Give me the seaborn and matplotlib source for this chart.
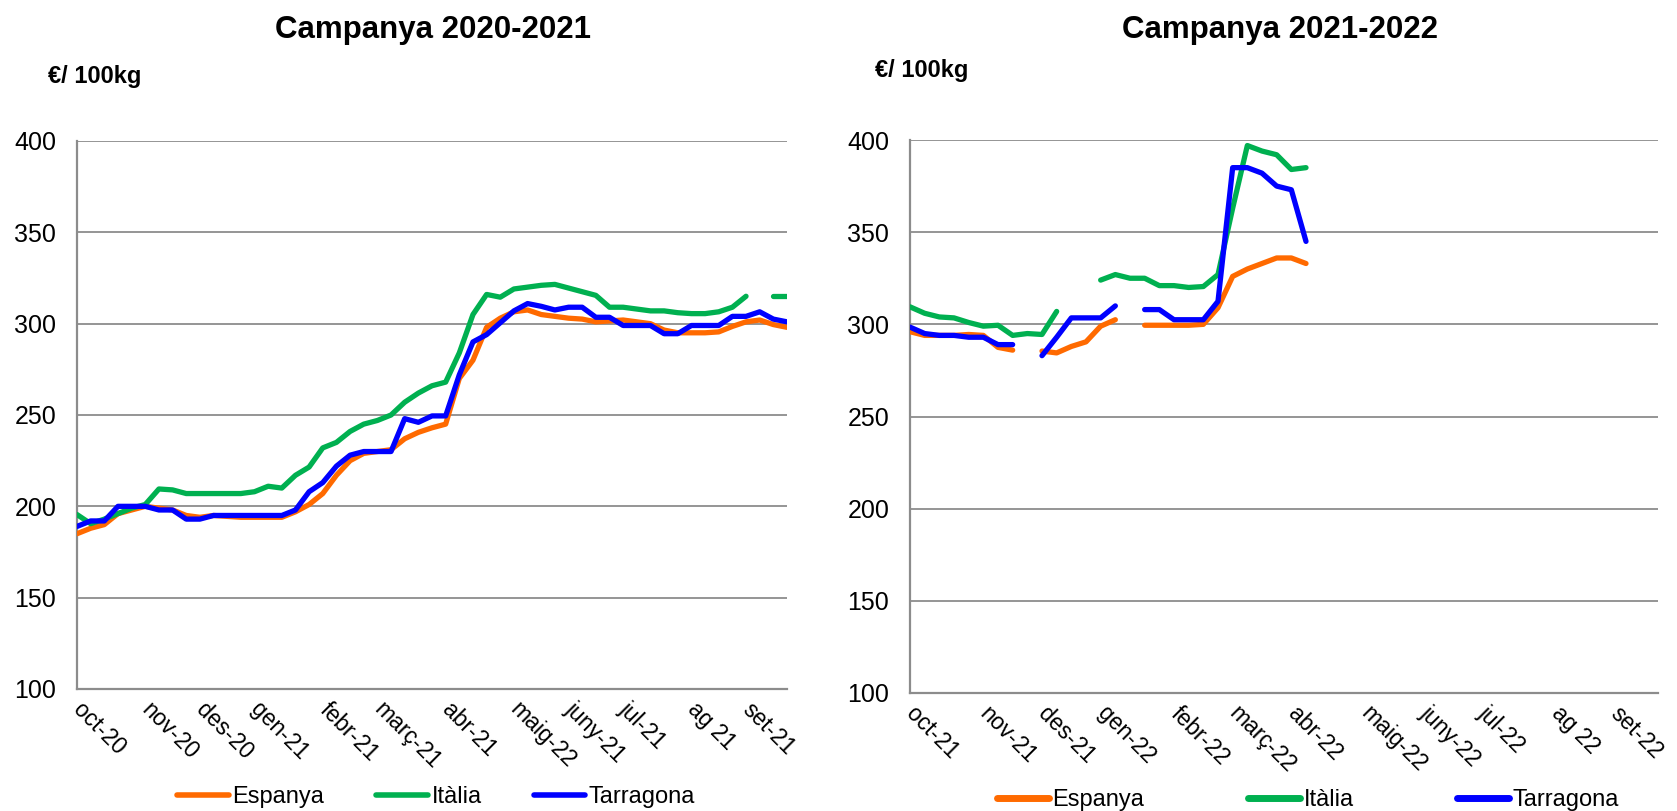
import matplotlib
matplotlib.use("Agg")
import matplotlib.pyplot as plt
from matplotlib.lines import Line2D
import numpy as np
import pandas as pd
import seaborn as sns

sns.set_style("white")
plt.rcParams['font.family'] = ['Liberation Sans', 'DejaVu Sans']
plt.rcParams['text.color'] = 'black'
plt.rcParams['xtick.labelcolor'] = 'black'
plt.rcParams['ytick.labelcolor'] = 'black'

nan = np.nan

# --- Campanya 2020-2021 (weekly, 53 points) ---
esp_2021 = [185, 188, 190, 196, 198, 200, 199, 198, 195, 194,
            195, 194.5, 194, 194, 194, 194, 197, 201, 207, 217,
            225, 229, 230, 231, 237, 240.5, 243, 245, 270, 280,
            298, 303, 306.5, 307.5, 305, 304, 303, 302.5, 301, 301.5,
            302, 301, 300, 296.5, 295, 295, 295, 295.5, 298.5, 301,
            302, 299.5, 298]
ita_2021 = [195.5, 190.5, 193, 196, 199, 201, 209.5, 209, 207, 207,
            207, 207, 207, 208, 211, 210, 217, 221.5, 232, 235,
            241, 245, 247, 250, 257, 262, 266, 268, 284, 305,
            316, 314.5, 319, 320, 321, 321.5, 319.5, 317.5, 315.5, 309,
            309, 308, 307, 307, 306, 305.5, 305.5, 306.5, 309, 315,
            nan, 315, 315]
tar_2021 = [189, 192, 192, 200, 200, 200, 198, 198, 193, 193,
            195, 195, 195, 195, 195, 195, 198, 208, 213, 222,
            228, 230, 230, 230, 248, 246, 249.5, 249.5, 272, 290,
            294, 300.5, 307, 311, 309.5, 307.5, 309, 309, 303.5, 303.5,
            299, 299, 299, 294.5, 294.5, 299, 299, 299, 304, 304,
            306.5, 302.5, 301]
labels_2021 = ['oct-20', 'nov-20', 'des-20', 'gen-21', 'febr-21', 'març-21',
               'abr-21', 'maig-22', 'juny-21', 'jul-21', 'ag 21', 'set-21']
label_weeks_2021 = [0, 5, 9, 13, 18, 22, 27, 32, 36, 40, 45, 49]

# --- Campanya 2021-2022 (weekly, 52 points, data up to abr-22) ---
esp_2122 = [296, 294, 294, 294, 294.5, 294, 287.5, 286, nan, 285.5,
            284.5, 288, 290.5, 299, 302.5, nan, 299.5, 299.5, 299.5, 299.5,
            300, 309, 326, 330, 333, 336, 336, 333]
ita_2122 = [309.5, 306, 304, 303.5, 301, 299, 299.5, 294, 295, 294.5,
            307, nan, nan, 324, 327, 325, 325, 321, 321, 320,
            320.5, 327, 363, 397, 394, 392, 384, 385]
tar_2122 = [298.5, 295, 294, 294, 293, 293, 289, 289, nan, 283,
            293, 303.5, 303.5, 303.5, 310, nan, 308, 308, 302.5, 302.5,
            302.5, 312.5, 385, 385, 382, 375, 373, 345]
labels_2122 = ['oct-21', 'nov-21', 'des-21', 'gen-22', 'febr-22', 'març-22',
               'abr-22', 'maig-22', 'juny-22', 'jul-22', 'ag 22', 'set-22']
label_weeks_2122 = [0, 5, 9, 13, 18, 22, 26, 31, 35, 39, 44, 48]

series = ['Espanya', 'Itàlia', 'Tarragona']
colors = {'Espanya': '#FF6A00', 'Itàlia': '#00B050', 'Tarragona': '#0000FF'}
grid_col = '#8c8c8c'


def long_df(values):
    frames = []
    for name, vals in zip(series, values):
        v = np.array(vals, dtype=float)
        seg = np.cumsum(np.isnan(v))
        d = pd.DataFrame({'week': np.arange(len(v)), 'price': v,
                          'serie': name, 'seg': seg})
        frames.append(d.dropna())
    return pd.concat(frames, ignore_index=True)


def draw(ax, df, n_weeks, labels, label_weeks):
    sns.lineplot(data=df, x='week', y='price', hue='serie', units='seg',
                 estimator=None, palette=colors, linewidth=3.8,
                 legend=False, ax=ax, zorder=3)
    ax.set_xlim(0, n_weeks - 1)
    ax.set_ylim(100, 400)
    ax.set_yticks(range(100, 401, 50))
    ax.yaxis.grid(True, color=grid_col, linewidth=1.3)
    ax.set_xlabel('')
    ax.set_ylabel('')
    for s in ['top', 'right']:
        ax.spines[s].set_visible(False)
    for s in ['left', 'bottom']:
        ax.spines[s].set_color(grid_col)
        ax.spines[s].set_linewidth(1.6)
    tick_labels = [''] * n_weeks
    for w, lab in zip(label_weeks, labels):
        tick_labels[w] = lab
    ax.set_xticks(range(n_weeks))
    ax.set_xticklabels(tick_labels)
    ax.tick_params(axis='x', direction='inout', length=9, width=1.3,
                   color=grid_col, pad=8, labelsize=16.5)
    ax.tick_params(axis='y', direction='out', length=5, width=1.3,
                   color=grid_col, pad=10, labelsize=18)
    for t in ax.get_xticklabels():
        t.set_rotation(-45)
        t.set_ha('left')
        t.set_va('center')
        t.set_rotation_mode('anchor')


W, H = 1677, 811
fig = plt.figure(figsize=(W / 100, H / 100), dpi=100)
ax1 = fig.add_axes([77 / W, 1 - 689 / H, (787 - 77) / W, (689 - 141) / H])
ax2 = fig.add_axes([910 / W, 1 - 693 / H, (1658 - 910) / W, (693 - 140) / H])

draw(ax1, long_df([esp_2021, ita_2021, tar_2021]), 53, labels_2021, label_weeks_2021)
draw(ax2, long_df([esp_2122, ita_2122, tar_2122]), 52, labels_2122, label_weeks_2122)

fig.text(433 / W, 1 - 30 / H, 'Campanya 2020-2021', ha='center', va='center',
         fontsize=22.5, fontweight='bold')
fig.text(1280 / W, 1 - 30 / H, 'Campanya 2021-2022', ha='center', va='center',
         fontsize=22.5, fontweight='bold')
fig.text(48 / W, 1 - 77 / H, '€/ 100kg', ha='left', va='center',
         fontsize=17, fontweight='bold')
fig.text(875 / W, 1 - 70 / H, '€/ 100kg', ha='left', va='center',
         fontsize=17, fontweight='bold')

handles = [Line2D([], [], color=colors[s], linewidth=4) for s in series]
fig.legend(handles, series, loc='center', bbox_to_anchor=(436 / W, 1 - 797 / H),
           ncol=3, frameon=False, fontsize=17, handlelength=2.2,
           handletextpad=0.15, columnspacing=2.2)
handles2 = [Line2D([], [], color=colors[s], linewidth=5) for s in series]
fig.legend(handles2, series, loc='center', bbox_to_anchor=(1308 / W, 1 - 800 / H),
           ncol=3, frameon=False, fontsize=17, handlelength=2.2,
           handletextpad=0.15, columnspacing=4.4)

fig.savefig('out.png', dpi=100)
